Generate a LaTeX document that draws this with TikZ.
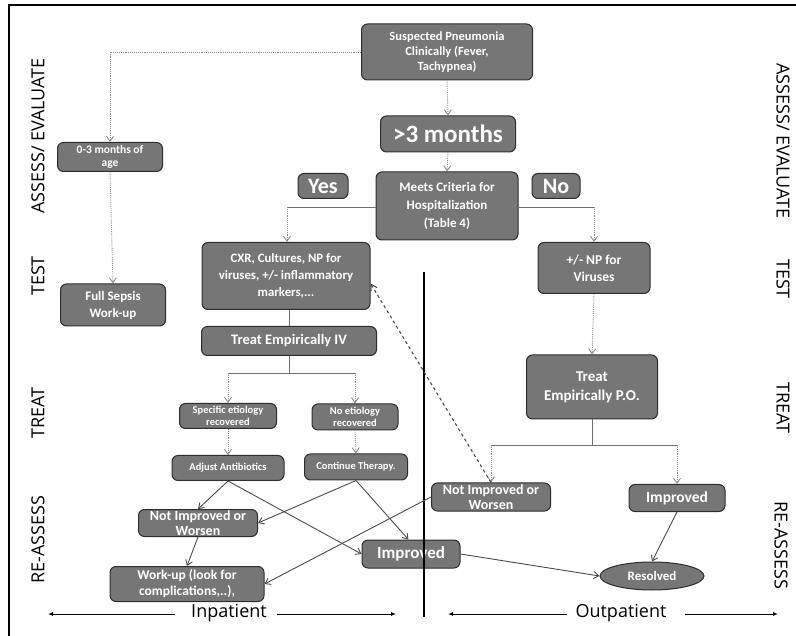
\documentclass[tikz,border=0pt]{standalone}
\usepackage{fontspec}
\setmainfont{Carlito}
\newfontfamily\labfont{Open Sans}
\usetikzlibrary{arrows.meta,shapes.geometric}
\definecolor{boxfill}{RGB}{118,118,118}
\definecolor{boxline}{RGB}{45,45,45}
\definecolor{flowgray}{RGB}{140,140,140}
\definecolor{darkline}{RGB}{75,75,75}
\tikzset{
  box/.style={draw=boxline, line width=1pt, fill=boxfill, rounded corners=6pt,
    text=white, align=center, inner sep=1pt},
  flow/.style={draw=flowgray, densely dotted, line width=0.9pt,
    -{Straight Barb[length=5pt,width=7pt]}},
  hline/.style={draw=darkline!80, line width=0.9pt},
  solidarr/.style={draw=darkline, line width=0.9pt,
    -{Straight Barb[length=5pt,width=7pt]}},
  dasharr/.style={draw=darkline, dashed, line width=1.1pt,
    -{Straight Barb[length=6pt,width=7pt]}},
  sidelab/.style={font=\labfont\fontsize{18}{20}\selectfont, text=black, inner sep=0pt},
  botlab/.style={font=\labfont\fontsize{18}{20}\selectfont, text=black, inner sep=0pt},
  botarr/.style={draw=black, line width=0.9pt, -{Latex[length=5pt,width=4pt]}},
}
\newcommand{\bx}[2]{\bfseries\fontsize{#1}{#2}\selectfont}
\begin{document}
\begin{tikzpicture}[x=1pt,y=-1pt]
\useasboundingbox (0,0) rectangle (796,636);
% frame
\draw[line width=1.2pt] (9,636) -- (9,5) -- (796,5);

% side labels
\node[sidelab, rotate=90] (lA) at (38,136) {ASSESS/ EVALUATE};
\node[sidelab, rotate=90] (lT) at (38,276) {TEST};
\node[sidelab, rotate=90] (lR) at (38,413) {TREAT};
\node[sidelab, rotate=90] (lRA) at (38,540) {RE-ASSESS};
\node[sidelab, rotate=-90] (rA) at (783,141) {ASSESS/ EVALUATE};
\node[sidelab, rotate=-90] (rT) at (783,279) {TEST};
\node[sidelab, rotate=-90] (rR) at (783,408) {TREAT};
\node[sidelab, rotate=-90] (rRA) at (781,545) {RE-ASSESS};

% boxes
\node[box, minimum width=171pt, minimum height=56pt, font=\bx{12.5}{15}] (susp) at (447,52) {Suspected Pneumonia\\Clinically (Fever,\\Tachypnea)};
\node[box, minimum width=135pt, minimum height=36pt, font=\bx{25}{27}] (mon3) at (448,134) {>3 months};
\node[box, minimum width=142pt, minimum height=68pt, font=\bx{13}{18}] (meets) at (447,206) {Meets Criteria for\\Hospitalization\\(Table 4)};
\node[box, minimum width=50pt, minimum height=25pt, font=\bx{22}{22}] (yes) at (323,186) {Yes};
\node[box, minimum width=48pt, minimum height=25pt, font=\bx{22}{22}] (no) at (556,186) {No};
\node[box, minimum width=105pt, minimum height=29pt, font=\bx{11.5}{12.5}] (age) at (110,157) {0-3 months of\\age};
\node[box, minimum width=105pt, minimum height=42pt, font=\bx{13}{17}] (sepsis) at (113,305) {Full Sepsis\\Work-up};
\node[box, minimum width=168pt, minimum height=67pt, font=\bx{12.8}{17}] (cxr) at (286,276) {CXR, Cultures, NP for\\viruses, +/- inflammatory\\markers,...};
\node[box, minimum width=175pt, minimum height=29pt, font=\bx{14.5}{16}] (iv) at (289,341) {Treat Empirically IV};
\node[box, minimum width=97pt, minimum height=25pt, font=\bx{10.5}{11.5}] (spec) at (228,416) {Specific etiology\\recovered};
\node[box, minimum width=86pt, minimum height=26pt, font=\bx{10.5}{11.5}] (noet) at (355,417) {No etiology\\recovered};
\node[box, minimum width=112pt, minimum height=25pt, font=\bx{10.5}{12}] (adj) at (228,468) {Adjust Antibiotics};
\node[box, minimum width=103pt, minimum height=26pt, font=\bx{10.5}{12}] (cont) at (356,467) {Continue Therapy.};
\node[box, minimum width=119pt, minimum height=27pt, font=\bx{14}{15}] (nil) at (198,523) {Not Improved or\\Worsen};
\node[box, minimum width=154pt, minimum height=35pt, font=\bx{13.5}{16}] (work) at (187,584) {Work-up (look for\\complications,..),};
\node[box, minimum width=98pt, minimum height=28pt, font=\bx{17}{18}] (impm) at (411,554) {Improved};
\node[box, minimum width=112pt, minimum height=51pt, font=\bx{13.5}{17}] (np) at (594,268) {+/- NP for\\Viruses};
\node[box, minimum width=131pt, minimum height=64pt, font=\bx{15}{19}] (po) at (592,387) {Treat\\Empirically P.O.};
\node[box, minimum width=119pt, minimum height=28pt, font=\bx{14}{15}] (nir) at (491,497) {Not Improved or\\Worsen};
\node[box, minimum width=96pt, minimum height=27pt, font=\bx{15.5}{17}] (impr) at (677,498) {Improved};
\node[box, ellipse, minimum width=104pt, minimum height=28pt, font=\bx{13}{14}] (res) at (652,576) {Resolved};

% divider
\coordinate (dvT) at (424,272);
\coordinate (dvB) at (424,617);
\draw[line width=2.6pt] (dvT) -- (dvB);

% assess connectors
\coordinate (c1) at (110,52);
\draw[flow] (susp.west) -- (c1) -- (age.north);
\draw[flow] (age.south) -- (sepsis.north);
\draw[flow] (susp.south) -- (mon3.north);
\draw[flow] (mon3.south) -- (meets.north);

\coordinate (mL) at (287,207);
\coordinate (mR) at (594,207);
\draw[hline] (meets.west |- mL) -- (mL);
\draw[flow] (mL) -- (cxr.north -| mL);
\draw[hline] (meets.east |- mR) -- (mR);
\draw[flow] (mR) -- (np.north);

% inpatient
\draw[hline] (cxr.south -| iv.north) -- (iv.north);
\coordinate (b1) at (289,373);
\coordinate (b1L) at (228,373);
\coordinate (b1R) at (355,373);
\draw[hline] (iv.south) -- (b1);
\draw[hline] (b1L) -- (b1R);
\draw[flow] (b1L) -- (spec.north);
\draw[flow] (b1R) -- (noet.north);
\draw[flow] (spec.south) -- (adj.north);
\draw[flow] (noet.south) -- (cont.north);

\draw[solidarr] (adj.south) -- (nil.north);
\draw[solidarr] (adj.south) -- (impm.west);
\draw[solidarr] (cont.south) -- (nil.east);
\draw[solidarr] (cont.south) -- (impm.100);
\draw[solidarr] (nil.south) -- (work.north);

% outpatient
\draw[flow] (np.south) -- (po.north);
\coordinate (b2) at (592,445);
\coordinate (b2L) at (491,445);
\coordinate (b2R) at (677,445);
\draw[hline] (po.south) -- (b2);
\draw[hline] (b2L) -- (b2R);
\draw[flow] (b2L) -- (nir.north);
\draw[flow] (b2R) -- (impr.north);

\draw[dasharr] (nir.north) -- (cxr.-5);
\draw[solidarr] (nir.west) -- (work.east);
\draw[solidarr] (impm.east) -- (res.west);
\draw[solidarr] (impr.south) -- (res.north);

% bottom labels
\node[botlab] (inp) at (229,613) {Inpatient};
\node[botlab] (outp) at (621,613) {Outpatient};
\coordinate (a1) at (48,614);
\coordinate (a2) at (396,614);
\coordinate (a3) at (448,614);
\coordinate (a4) at (778,614);
\draw[botarr] (inp.west) ++(-16,1) coordinate (a1s) -- (a1);
\draw[botarr] (inp.east) ++(10,1) coordinate (a2s) -- (a2);
\draw[botarr] (outp.west) ++(-8,1) coordinate (a3s) -- (a3);
\draw[botarr] (outp.east) ++(18,1) coordinate (a4s) -- (a4);
\end{tikzpicture}
\end{document}
